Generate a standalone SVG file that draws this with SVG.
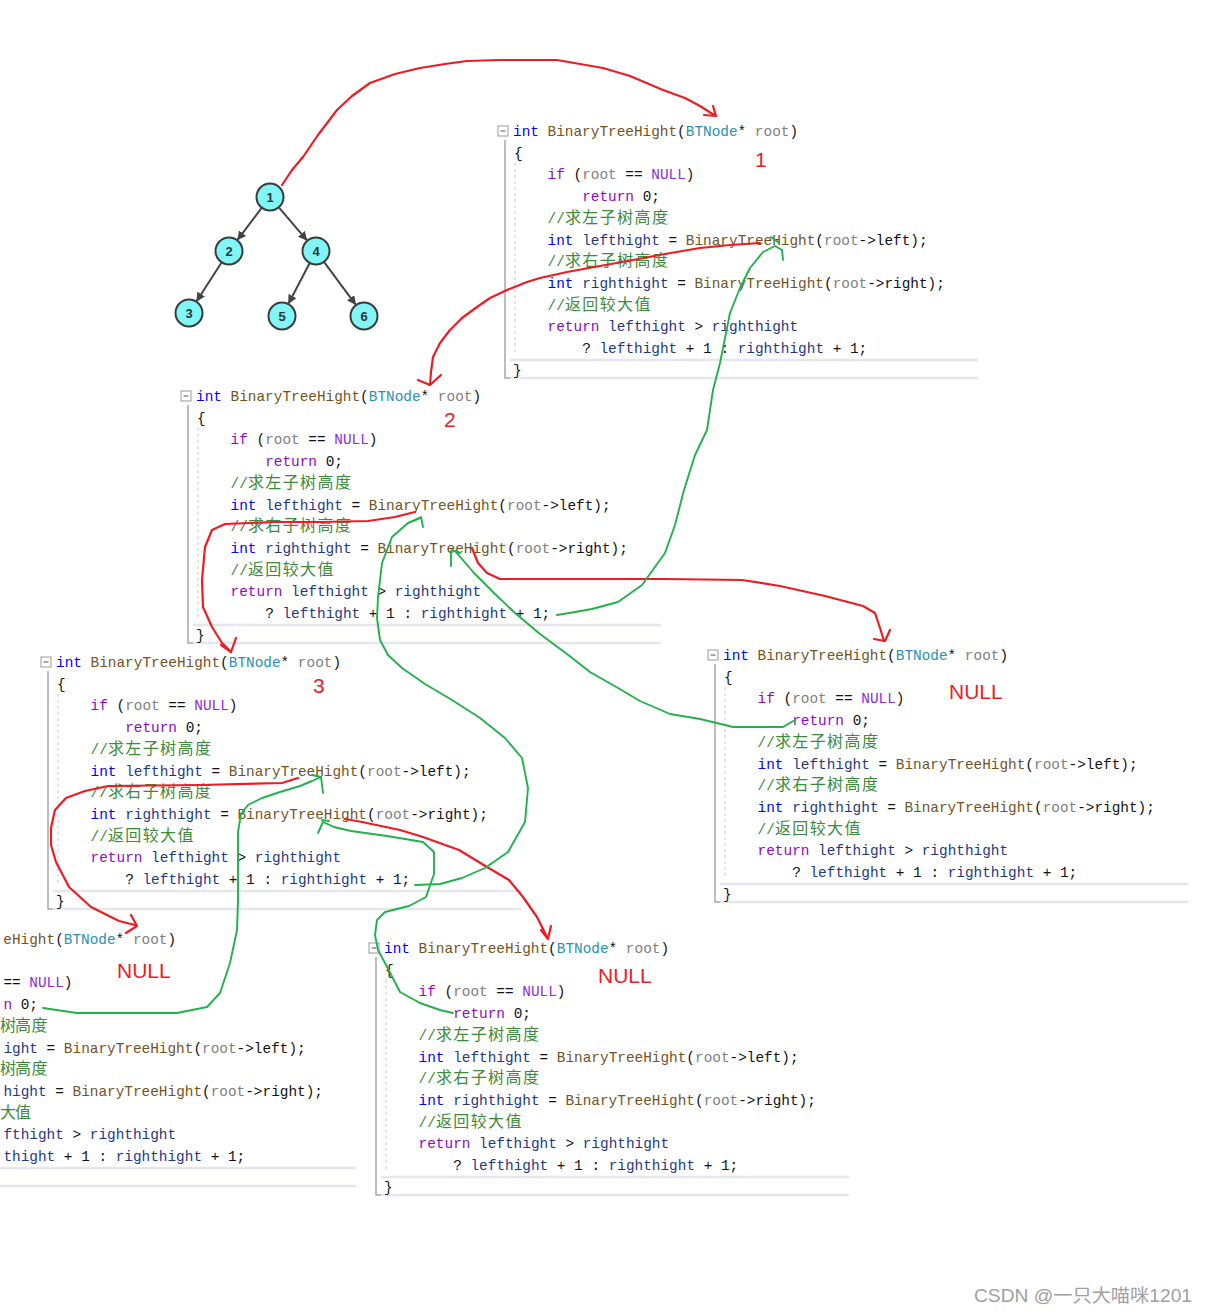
<svg xmlns="http://www.w3.org/2000/svg" width="1208" height="1314" viewBox="0 0 1208 1314">
<defs>
<style>
.c{font-family:"Liberation Mono","DejaVu Sans Mono",monospace;font-size:14.4px;fill:#111}
.k{fill:#0000ff}.f{fill:#74531f}.t{fill:#2b91af}.p{fill:#808080}.ctl{fill:#8f08c4}.m{fill:#8a2be2}.v{fill:#1f377f}.cm{fill:#3b8b3b}
.cj{font-family:"Noto Sans CJK SC",sans-serif;font-size:16px;letter-spacing:1.4px}
.fold{fill:#fff;stroke:#999;stroke-width:1}
.bar{fill:none;stroke:#a8a8a8;stroke-width:1.5}
.guide{fill:none;stroke:#c8c8c8;stroke-width:1;stroke-dasharray:3 3}
.hl{fill:none;stroke:#e6e6ee;stroke-width:2.5}
.tn{fill:#80f6f6;stroke:#3a3a3a;stroke-width:2}
.tl{font-family:"Liberation Sans",sans-serif;font-weight:bold;font-size:13px;fill:#333;text-anchor:middle}
.te{stroke:#444;stroke-width:2;fill:none}
.red{fill:none;stroke:#ed1c24;stroke-width:2.2;stroke-linejoin:round;stroke-linecap:round}
.grn{fill:none;stroke:#22b14c;stroke-width:1.9;stroke-linejoin:round;stroke-linecap:round}
.lab{font-family:"Liberation Sans",sans-serif;font-size:21px;fill:#ed1c24}
.wm{font-family:"Liberation Sans","Noto Sans CJK SC",sans-serif;font-size:18.5px;fill:#a0a0a0}
</style>
<marker id="ah" viewBox="0 0 10 10" refX="10" refY="5" markerWidth="9" markerHeight="9" markerUnits="userSpaceOnUse" orient="auto"><path d="M0,0 L10,5 L0,10 z" fill="#444"/></marker>
</defs>
<rect width="1208" height="1314" fill="#fff"/>

<!-- Block 1 -->
<g id="code-block-1" transform="translate(513,131)">
<rect class="fold" x="-15" y="-5" width="10" height="10"/><path d="M-12.5,0H-7.5" stroke="#555" stroke-width="1"/>
<path class="bar" d="M-8,9V247H-3"/><path class="guide" d="M2,32V224"/>
<path class="hl" d="M-3,229H465M-3,247H465"/>
<text class="c" x="0" y="5"><tspan class="k">int</tspan> <tspan class="f">BinaryTreeHight</tspan>(<tspan class="t">BTNode</tspan>* <tspan class="p">root</tspan>)</text>
<text class="c" x="1" y="26.7">{</text>
<text class="c" x="34.6" y="48.4"><tspan class="ctl">if</tspan> (<tspan class="p">root</tspan> == <tspan class="m">NULL</tspan>)</text>
<text class="c" x="69.2" y="70.1"><tspan class="ctl">return</tspan> 0;</text>
<text class="c" x="34.6" y="91.8"><tspan class="cm">//</tspan><tspan class="cm cj">求左子树高度</tspan></text>
<text class="c" x="34.6" y="113.5"><tspan class="k">int</tspan> <tspan class="v">lefthight</tspan> = <tspan class="f">BinaryTreeHight</tspan>(<tspan class="p">root</tspan>-&gt;left);</text>
<text class="c" x="34.6" y="135.2"><tspan class="cm">//</tspan><tspan class="cm cj">求右子树高度</tspan></text>
<text class="c" x="34.6" y="156.9"><tspan class="k">int</tspan> <tspan class="v">righthight</tspan> = <tspan class="f">BinaryTreeHight</tspan>(<tspan class="p">root</tspan>-&gt;right);</text>
<text class="c" x="34.6" y="178.6"><tspan class="cm">//</tspan><tspan class="cm cj">返回较大值</tspan></text>
<text class="c" x="34.6" y="200.3"><tspan class="ctl">return</tspan> <tspan class="v">lefthight</tspan> &gt; <tspan class="v">righthight</tspan></text>
<text class="c" x="69.2" y="222">? <tspan class="v">lefthight</tspan> + 1 : <tspan class="v">righthight</tspan> + 1;</text>
<text class="c" x="0" y="243.7">}</text>
</g>

<!-- Block 2 -->
<g id="code-block-2" transform="translate(196,396)">
<rect class="fold" x="-15" y="-5" width="10" height="10"/><path d="M-12.5,0H-7.5" stroke="#555" stroke-width="1"/>
<path class="bar" d="M-8,9V247H-3"/><path class="guide" d="M2,32V224"/>
<path class="hl" d="M-3,229H465M-3,247H465"/>
<text class="c" x="0" y="5"><tspan class="k">int</tspan> <tspan class="f">BinaryTreeHight</tspan>(<tspan class="t">BTNode</tspan>* <tspan class="p">root</tspan>)</text>
<text class="c" x="1" y="26.7">{</text>
<text class="c" x="34.6" y="48.4"><tspan class="ctl">if</tspan> (<tspan class="p">root</tspan> == <tspan class="m">NULL</tspan>)</text>
<text class="c" x="69.2" y="70.1"><tspan class="ctl">return</tspan> 0;</text>
<text class="c" x="34.6" y="91.8"><tspan class="cm">//</tspan><tspan class="cm cj">求左子树高度</tspan></text>
<text class="c" x="34.6" y="113.5"><tspan class="k">int</tspan> <tspan class="v">lefthight</tspan> = <tspan class="f">BinaryTreeHight</tspan>(<tspan class="p">root</tspan>-&gt;left);</text>
<text class="c" x="34.6" y="135.2"><tspan class="cm">//</tspan><tspan class="cm cj">求右子树高度</tspan></text>
<text class="c" x="34.6" y="156.9"><tspan class="k">int</tspan> <tspan class="v">righthight</tspan> = <tspan class="f">BinaryTreeHight</tspan>(<tspan class="p">root</tspan>-&gt;right);</text>
<text class="c" x="34.6" y="178.6"><tspan class="cm">//</tspan><tspan class="cm cj">返回较大值</tspan></text>
<text class="c" x="34.6" y="200.3"><tspan class="ctl">return</tspan> <tspan class="v">lefthight</tspan> &gt; <tspan class="v">righthight</tspan></text>
<text class="c" x="69.2" y="222">? <tspan class="v">lefthight</tspan> + 1 : <tspan class="v">righthight</tspan> + 1;</text>
<text class="c" x="0" y="243.7">}</text>
</g>

<!-- Block 3 -->
<g id="code-block-3" transform="translate(56,662)">
<rect class="fold" x="-15" y="-5" width="10" height="10"/><path d="M-12.5,0H-7.5" stroke="#555" stroke-width="1"/>
<path class="bar" d="M-8,9V247H-3"/><path class="guide" d="M2,32V224"/>
<path class="hl" d="M-3,229H465M-3,247H465"/>
<text class="c" x="0" y="5"><tspan class="k">int</tspan> <tspan class="f">BinaryTreeHight</tspan>(<tspan class="t">BTNode</tspan>* <tspan class="p">root</tspan>)</text>
<text class="c" x="1" y="26.7">{</text>
<text class="c" x="34.6" y="48.4"><tspan class="ctl">if</tspan> (<tspan class="p">root</tspan> == <tspan class="m">NULL</tspan>)</text>
<text class="c" x="69.2" y="70.1"><tspan class="ctl">return</tspan> 0;</text>
<text class="c" x="34.6" y="91.8"><tspan class="cm">//</tspan><tspan class="cm cj">求左子树高度</tspan></text>
<text class="c" x="34.6" y="113.5"><tspan class="k">int</tspan> <tspan class="v">lefthight</tspan> = <tspan class="f">BinaryTreeHight</tspan>(<tspan class="p">root</tspan>-&gt;left);</text>
<text class="c" x="34.6" y="135.2"><tspan class="cm">//</tspan><tspan class="cm cj">求右子树高度</tspan></text>
<text class="c" x="34.6" y="156.9"><tspan class="k">int</tspan> <tspan class="v">righthight</tspan> = <tspan class="f">BinaryTreeHight</tspan>(<tspan class="p">root</tspan>-&gt;right);</text>
<text class="c" x="34.6" y="178.6"><tspan class="cm">//</tspan><tspan class="cm cj">返回较大值</tspan></text>
<text class="c" x="34.6" y="200.3"><tspan class="ctl">return</tspan> <tspan class="v">lefthight</tspan> &gt; <tspan class="v">righthight</tspan></text>
<text class="c" x="69.2" y="222">? <tspan class="v">lefthight</tspan> + 1 : <tspan class="v">righthight</tspan> + 1;</text>
<text class="c" x="0" y="243.7">}</text>
</g>

<!-- Block 4 -->
<g id="code-block-4" transform="translate(723,655)">
<rect class="fold" x="-15" y="-5" width="10" height="10"/><path d="M-12.5,0H-7.5" stroke="#555" stroke-width="1"/>
<path class="bar" d="M-8,9V247H-3"/><path class="guide" d="M2,32V224"/>
<path class="hl" d="M-3,229H465M-3,247H465"/>
<text class="c" x="0" y="5"><tspan class="k">int</tspan> <tspan class="f">BinaryTreeHight</tspan>(<tspan class="t">BTNode</tspan>* <tspan class="p">root</tspan>)</text>
<text class="c" x="1" y="26.7">{</text>
<text class="c" x="34.6" y="48.4"><tspan class="ctl">if</tspan> (<tspan class="p">root</tspan> == <tspan class="m">NULL</tspan>)</text>
<text class="c" x="69.2" y="70.1"><tspan class="ctl">return</tspan> 0;</text>
<text class="c" x="34.6" y="91.8"><tspan class="cm">//</tspan><tspan class="cm cj">求左子树高度</tspan></text>
<text class="c" x="34.6" y="113.5"><tspan class="k">int</tspan> <tspan class="v">lefthight</tspan> = <tspan class="f">BinaryTreeHight</tspan>(<tspan class="p">root</tspan>-&gt;left);</text>
<text class="c" x="34.6" y="135.2"><tspan class="cm">//</tspan><tspan class="cm cj">求右子树高度</tspan></text>
<text class="c" x="34.6" y="156.9"><tspan class="k">int</tspan> <tspan class="v">righthight</tspan> = <tspan class="f">BinaryTreeHight</tspan>(<tspan class="p">root</tspan>-&gt;right);</text>
<text class="c" x="34.6" y="178.6"><tspan class="cm">//</tspan><tspan class="cm cj">返回较大值</tspan></text>
<text class="c" x="34.6" y="200.3"><tspan class="ctl">return</tspan> <tspan class="v">lefthight</tspan> &gt; <tspan class="v">righthight</tspan></text>
<text class="c" x="69.2" y="222">? <tspan class="v">lefthight</tspan> + 1 : <tspan class="v">righthight</tspan> + 1;</text>
<text class="c" x="0" y="243.7">}</text>
</g>

<!-- Block 5 (only the part visible at the left edge) -->
<g id="code-block-5">
<path class="hl" d="M0,1168H356M0,1186H356"/>
<text class="c" x="3.3" y="944"><tspan class="f">eHight</tspan>(<tspan class="t">BTNode</tspan>* <tspan class="p">root</tspan>)</text>
<text class="c" x="3.4" y="987.4">== <tspan class="m">NULL</tspan>)</text>
<text class="c" x="3.4" y="1009.1"><tspan class="ctl">n</tspan> 0;</text>
<text class="c" x="0" y="1030.8"><tspan class="cm cj" x="0 15 31.5">树高度</tspan></text>
<text class="c" x="3.4" y="1052.5"><tspan class="v">ight</tspan> = <tspan class="f">BinaryTreeHight</tspan>(<tspan class="p">root</tspan>-&gt;left);</text>
<text class="c" x="0" y="1074.2"><tspan class="cm cj" x="0 15 31.5">树高度</tspan></text>
<text class="c" x="3.4" y="1095.9"><tspan class="v">hight</tspan> = <tspan class="f">BinaryTreeHight</tspan>(<tspan class="p">root</tspan>-&gt;right);</text>
<text class="c" x="0" y="1117.6"><tspan class="cm cj" x="0 15">大值</tspan></text>
<text class="c" x="3.4" y="1139.3"><tspan class="v">fthight</tspan> &gt; <tspan class="v">righthight</tspan></text>
<text class="c" x="3.4" y="1161"><tspan class="v">thight</tspan> + 1 : <tspan class="v">righthight</tspan> + 1;</text>
</g>

<!-- Block 6 (bottom) -->
<g id="code-block-6" transform="translate(384,948)">
<rect class="fold" x="-15" y="-5" width="10" height="10"/><path d="M-12.5,0H-7.5" stroke="#555" stroke-width="1"/>
<path class="bar" d="M-8,9V247H-3"/><path class="guide" d="M2,32V224"/>
<path class="hl" d="M-3,229H465M-3,247H465"/>
<text class="c" x="0" y="5"><tspan class="k">int</tspan> <tspan class="f">BinaryTreeHight</tspan>(<tspan class="t">BTNode</tspan>* <tspan class="p">root</tspan>)</text>
<text class="c" x="1" y="26.7">{</text>
<text class="c" x="34.6" y="48.4"><tspan class="ctl">if</tspan> (<tspan class="p">root</tspan> == <tspan class="m">NULL</tspan>)</text>
<text class="c" x="69.2" y="70.1"><tspan class="ctl">return</tspan> 0;</text>
<text class="c" x="34.6" y="91.8"><tspan class="cm">//</tspan><tspan class="cm cj">求左子树高度</tspan></text>
<text class="c" x="34.6" y="113.5"><tspan class="k">int</tspan> <tspan class="v">lefthight</tspan> = <tspan class="f">BinaryTreeHight</tspan>(<tspan class="p">root</tspan>-&gt;left);</text>
<text class="c" x="34.6" y="135.2"><tspan class="cm">//</tspan><tspan class="cm cj">求右子树高度</tspan></text>
<text class="c" x="34.6" y="156.9"><tspan class="k">int</tspan> <tspan class="v">righthight</tspan> = <tspan class="f">BinaryTreeHight</tspan>(<tspan class="p">root</tspan>-&gt;right);</text>
<text class="c" x="34.6" y="178.6"><tspan class="cm">//</tspan><tspan class="cm cj">返回较大值</tspan></text>
<text class="c" x="34.6" y="200.3"><tspan class="ctl">return</tspan> <tspan class="v">lefthight</tspan> &gt; <tspan class="v">righthight</tspan></text>
<text class="c" x="69.2" y="222">? <tspan class="v">lefthight</tspan> + 1 : <tspan class="v">righthight</tspan> + 1;</text>
<text class="c" x="0" y="243.7">}</text>
</g>

<!-- Red annotations -->
<g id="annotations">
<text class="lab" x="755" y="167">1</text>
<text class="lab" x="444" y="427">2</text>
<text class="lab" x="313" y="693">3</text>
<text class="lab" x="949" y="699">NULL</text>
<text class="lab" x="117" y="978">NULL</text>
<text class="lab" x="598" y="983">NULL</text>
</g>

<!-- Tree -->
<g id="tree-node-1"><circle class="tn" cx="270" cy="197" r="13.5"/><text class="tl" x="270" y="201.5">1</text></g>
<g id="tree-node-2"><circle class="tn" cx="229" cy="251" r="13.5"/><text class="tl" x="229" y="255.5">2</text></g>
<g id="tree-node-4"><circle class="tn" cx="316" cy="251" r="13.5"/><text class="tl" x="316" y="255.5">4</text></g>
<g id="tree-node-3"><circle class="tn" cx="189" cy="313" r="13.5"/><text class="tl" x="189" y="317.5">3</text></g>
<g id="tree-node-5"><circle class="tn" cx="282" cy="316" r="13.5"/><text class="tl" x="282" y="320.5">5</text></g>
<g id="tree-node-6"><circle class="tn" cx="364" cy="316" r="13.5"/><text class="tl" x="364" y="320.5">6</text></g>

<!-- Connectors -->
<g id="connectors">
<g id="tree-edges">
<path class="te" d="M261.8,207.7L237.2,240.3" marker-end="url(#ah)"/>
<path class="te" d="M278.8,207.3L307.2,240.7" marker-end="url(#ah)"/>
<path class="te" d="M221.7,262.3L196.3,301.7" marker-end="url(#ah)"/>
<path class="te" d="M309.7,263L288.3,304" marker-end="url(#ah)"/>
<path class="te" d="M324,261.9L356,305.1" marker-end="url(#ah)"/>
</g>
<g id="red-calls">
<path class="red" d="M282,185 L292,170 L303,157 L318,135 L337,110 L352,96 L370,83 L395,74 L420,68 L445,64 L467,61 L500,60 L557,60 L580,64 L603,68 L630,76 L663,90 L685,98 L700,106 L714,115"/>
<path class="red" d="M713,106 L716,116 L704,115"/>
<path class="red" d="M760,243 L730,245 L700,248 L665,254 L633,260 L600,266 L567,272 L540,278 L527,282 L507,290 L490,298 L477,307 L462,318 L450,330 L440,343 L433,357 L431,372 L430,385"/>
<path class="red" d="M418,380 L430,385 L441,375"/>
<path class="red" d="M415,512 L395,517 L368,521 L320,522 L275,522 L225,524 L212,530 L205,547 L202,580 L203,607 L212,627 L222,643 L231,652"/>
<path class="red" d="M221,645 L231,652 L236,638"/>
<path class="red" d="M472,548 L478,563 L487,573 L500,579 L560,579 L665,579 L742,580 L780,586 L825,596 L863,606 L875,613 L880,628 L884,641"/>
<path class="red" d="M874,639 L885,641 L890,630"/>
<path class="red" d="M298,778 L282,783 L200,785 L108,786 L85,791 L66,798 L55,810 L51,828 L51,845 L56,862 L69,887 L91,907 L119,921 L135,925"/>
<path class="red" d="M131,915 L137,926 L126,933"/>
<path class="red" d="M345,819 L362,822 L400,830 L423,837 L459,850 L487,867 L509,880 L523,897 L537,917 L547,937"/>
<path class="red" d="M541,930 L548,939 L551,926"/>
</g>
<g id="green-returns">
<path class="grn" d="M557,615 L575,612 L592,609 L618,602 L642,585 L665,553 L675,525 L684,490 L695,455 L707,430 L713,390 L720,363 L730,313 L740,288 L750,268 L763,252 L775,246 L782,250 L783,260"/>
<path class="grn" d="M771,237 L779,243"/>
<path class="grn" d="M795,720 L783,727 L733,727 L700,719 L670,714 L640,701 L618,688 L590,672 L567,654 L540,634 L515,613 L495,594 L474,573 L462,559 L455,551"/>
<path class="grn" d="M451,551 L451,566 M452,550 L460,553"/>
<path class="grn" d="M415,885 L440,884 L462,878 L485,868 L508,852 L525,822 L528,788 L522,758 L505,738 L480,718 L452,700 L425,684 L402,668 L388,655 L380,640 L377,618 L378,597 L382,563 L392,537 L408,523 L420,518"/>
<path class="grn" d="M413,521 L421,517 L423,527"/>
<path class="grn" d="M43,1008 L77,1013 L177,1013 L207,1007 L220,993 L230,963 L237,930 L238,900 L238,870 L238,832 L241,814 L248,805 L262,798 L280,792 L300,786 L312,781 L321,777 L323,793"/>
<path class="grn" d="M312,775 L321,777"/>
<path class="grn" d="M453,1013 L440,1010 L420,1003 L400,992 L385,963 L378,950 L375,935 L377,920 L385,912 L409,906 L426,897 L434,874 L434,852 L423,842 L387,836 L351,831 L334,827 L323,822 L318,833"/>
<path class="grn" d="M322,820 L329,821"/>
</g>
</g>

<text class="wm" x="974" y="1302" textLength="218" lengthAdjust="spacingAndGlyphs">CSDN @一只大喵咪1201</text>
</svg>
